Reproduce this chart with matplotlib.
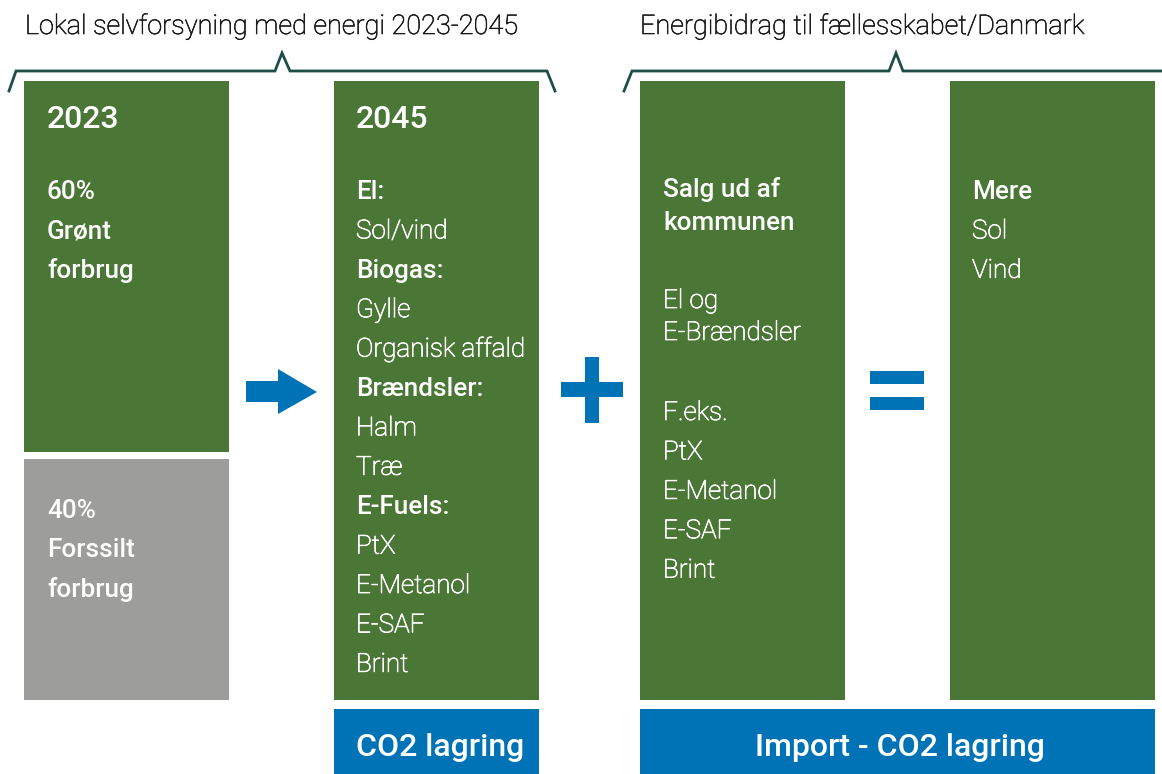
import matplotlib.pyplot as plt
import matplotlib.patheffects as pe
from matplotlib.patches import Rectangle, Polygon

plt.rcParams['font.family'] = ['Roboto', 'DejaVu Sans']

GREEN = '#4a7735'
GRAY = '#9d9d9c'
BLUE = '#0073b7'
BRACE = '#1d4d49'

# Headings over the two groups
group_titles = ['Lokal selvforsyning med energi 2023-2045',
                'Energibidrag til fællesskabet/Danmark']

# Text in each column: (text, bold)
box1_lines = [('60%', True), ('Grønt', True), ('forbrug', True)]
gray_lines = [('40%', True), ('Forssilt', True), ('forbrug', True)]
box2_lines = [('El:', True), ('Sol/vind', False), ('Biogas:', True),
              ('Gylle', False), ('Organisk affald', False),
              ('Brændsler:', True), ('Halm', False), ('Træ', False),
              ('E-Fuels:', True), ('PtX', False), ('E-Metanol', False),
              ('E-SAF', False), ('Brint', False)]
box3_head = ['Salg ud af', 'kommunen']
box3_mid = ['El og', 'E-Brændsler']
box3_list = ['F.eks.', 'PtX', 'E-Metanol', 'E-SAF', 'Brint']
box4_lines = [('Mere', True), ('Sol', False), ('Vind', False)]
years = ['2023', '2045']
footers = ['CO2 lagring', 'Import - CO2 lagring']

fig = plt.figure(figsize=(11.62, 7.74), dpi=100)
ax = fig.add_axes([0, 0, 1, 1])
ax.set_xlim(0, 1162)
ax.set_ylim(774, 0)
ax.axis('off')

# light weight renders a bit too thin, thicken slightly
thick_w = [pe.withStroke(linewidth=0.55, foreground='white')]
thick_k = [pe.withStroke(linewidth=0.45, foreground='#1a1a1a')]


def box(x0, y0, x1, y1, color):
    ax.add_patch(Rectangle((x0, y0), x1 - x0, y1 - y0, color=color, lw=0))


def line(x, y, s, bold=False, size=18.8):
    ax.text(x, y, s, color='white', fontsize=size, va='baseline', ha='left',
            fontweight='medium' if bold else 'light',
            path_effects=None if bold else thick_w)


# boxes
box(24, 81, 229, 452, GREEN)
box(24, 459, 229, 700, GRAY)
box(334, 81, 539, 700, GREEN)
box(640, 81, 845, 700, GREEN)
box(950, 81, 1155, 700, GREEN)
box(334, 709, 539, 774, BLUE)
box(640, 709, 1155, 774, BLUE)

# braces
ax.plot([9, 16, 275, 282, 290, 547, 555], [91, 71, 71, 53, 71, 71, 91],
        color=BRACE, lw=2, solid_joinstyle='miter')
ax.plot([624, 632, 889, 896, 903, 1162], [91, 71, 71, 53, 71, 71],
        color=BRACE, lw=2, solid_joinstyle='miter')

ax.text(25, 34, group_titles[0], fontsize=19.5, fontweight='light',
        color='#1a1a1a', va='baseline', path_effects=thick_k)
ax.text(640, 34, group_titles[1], fontsize=19.5, fontweight='light',
        color='#1a1a1a', va='baseline', path_effects=thick_k)

# arrow, plus, equals
ax.add_patch(Polygon([(246, 381), (278, 381), (278, 369), (317, 392),
                      (278, 414), (278, 402), (246, 402)], color=BLUE, lw=0))
box(585, 357, 599, 423, BLUE)
box(561, 382, 623, 397, BLUE)
box(870, 371, 924, 384, BLUE)
box(870, 397, 924, 410, BLUE)

# years
line(47, 128, years[0], True, 23)
line(356, 128, years[1], True, 23)

step = 39.4
for i, (s, b) in enumerate(box1_lines):
    line(47, 199 + i * step, s, b)
for i, (s, b) in enumerate(gray_lines):
    line(47, 518 + i * step, s, b)
for i, (s, b) in enumerate(box2_lines):
    line(356, 199 + i * step, s, b)
for i, s in enumerate(box3_head):
    line(663, 197 + i * 33, s, True)
for i, s in enumerate(box3_mid):
    line(663, 308 + i * 32, s)
for i, s in enumerate(box3_list):
    line(663, 420 + i * step, s)
for i, (s, b) in enumerate(box4_lines):
    line(972, 199 + i * step, s, b)

ax.text(440, 756, footers[0], color='white', fontsize=23, fontweight='medium',
        ha='center', va='baseline')
ax.text(900, 756, footers[1], color='white', fontsize=23, fontweight='medium',
        ha='center', va='baseline')

fig.savefig('out.png', dpi=100)
